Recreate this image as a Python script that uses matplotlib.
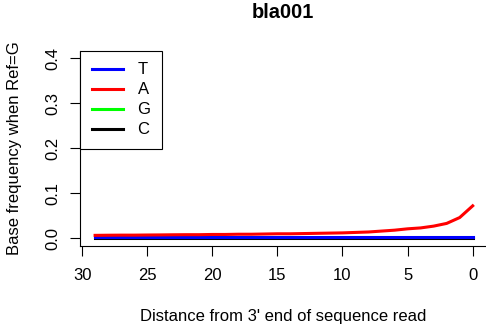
import matplotlib
matplotlib.use("Agg")
import matplotlib.pyplot as plt
import numpy as np

plt.rcParams['font.family'] = ['Liberation Sans', 'DejaVu Sans']

# Data
positions = list(range(0, 30))
freq_T = [0.002] * 30
freq_A = [0.072, 0.046, 0.033, 0.027, 0.023, 0.021, 0.018, 0.016, 0.014, 0.013,
          0.012, 0.0115, 0.011, 0.0105, 0.010, 0.010, 0.0095, 0.009, 0.009, 0.0085,
          0.0085, 0.008, 0.008, 0.0078, 0.0075, 0.0073, 0.007, 0.007, 0.0068, 0.0065]
freq_G = [0.99] * 30
freq_C = [0.001] * 30
x_ticks = [30, 25, 20, 15, 10, 5, 0]
y_ticks = [0.0, 0.1, 0.2, 0.3, 0.4]

W, H = 486, 329
fig = plt.figure(figsize=(W / 100, H / 100), dpi=100)
left, right = 80.0, 487.8
top, bottom = 50.8, 245.5
ax = fig.add_axes([left / W, 1 - bottom / H, (right - left) / W, (bottom - top) / H])

lw = 2.2
ax.plot(positions, freq_C, color='black', lw=lw, label='C', zorder=2)
ax.plot(positions, freq_G, color='#00ff00', lw=lw, label='G', zorder=2)
ax.plot(positions, freq_T, color='#0000ff', lw=lw, label='T', zorder=3)
ax.plot(positions, freq_A, color='#ff0000', lw=lw, label='A', zorder=4)

ax.set_xlim(30.16, -1.16)
ax.set_ylim(-0.016, 0.416)
ax.set_xticks(x_ticks)
ax.set_xticklabels([str(v) for v in x_ticks])
ax.set_yticks(y_ticks)
ax.set_yticklabels(['%.1f' % v for v in y_ticks], rotation=90, va='center')

for s in ['top', 'right']:
    ax.spines[s].set_visible(False)
for s in ['left', 'bottom']:
    ax.spines[s].set_linewidth(0.8)
fs = 12
ax.tick_params(axis='both', direction='out', length=7.2, width=0.8, labelsize=fs)
ax.tick_params(axis='x', pad=9)
ax.tick_params(axis='y', pad=7)

ax.set_xlabel("Distance from 3' end of sequence read", fontsize=fs)
ax.set_ylabel("Base frequency when Ref=G", fontsize=fs)
ax.xaxis.set_label_coords((283 - left) / (right - left), -(316.7 - bottom) / (bottom - top), transform=ax.transAxes)
ax.yaxis.set_label_coords(-(left - 15) / (right - left), 0.5, transform=ax.transAxes)
ax.xaxis.label.set_va('center')
ax.yaxis.label.set_va('center')

fig.text(283 / W, 1 - 12 / H, "bla001", ha='center', va='center', fontsize=14.4, fontweight='bold')

lines = ax.get_lines()
handles = [lines[2], lines[3], lines[1], lines[0]]
labels = ['T', 'A', 'G', 'C']
leg = ax.legend(handles, labels, loc='upper left', bbox_to_anchor=(0, 1), borderaxespad=0,
                fancybox=False, edgecolor='black', framealpha=1, fontsize=fs,
                handlelength=1.9, handletextpad=0.85, borderpad=0.7, labelspacing=0.3)
leg.get_frame().set_linewidth(0.8)

fig.savefig("out.png", dpi=100)
